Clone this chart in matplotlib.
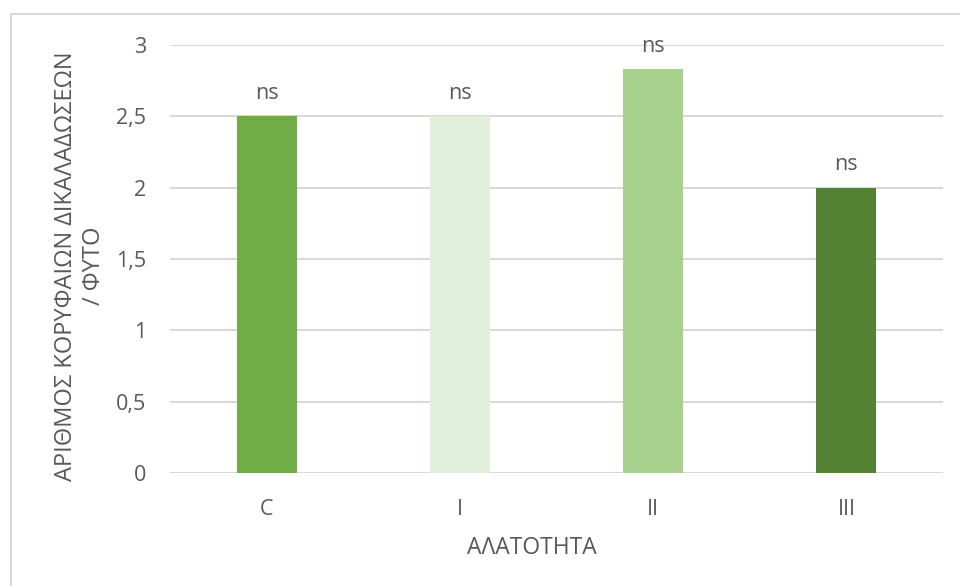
import matplotlib
matplotlib.use("Agg")
import matplotlib.pyplot as plt
from matplotlib.patches import Rectangle

categories = ["C", "I", "II", "III"]
values = [2.5, 2.5, 2.83, 2.0]
labels = ["ns", "ns", "ns", "ns"]
colors = ["#70AD47", "#E2EFDA", "#A9D18E", "#548235"]
yticks = [0, 0.5, 1, 1.5, 2, 2.5, 3]
ytick_labels = ["0", "0,5", "1", "1,5", "2", "2,5", "3"]

plt.rcParams['font.family'] = ['Open Sans', 'DejaVu Sans']
txt = "#595959"
fs = 15.5

fig = plt.figure(figsize=(9.6, 5.86), dpi=100)
ax = fig.add_axes([170/960, 1-473/586, (943-170)/960, (473-45)/586])

x = range(len(categories))
ax.bar(x, values, width=0.31, color=colors, zorder=3)
for xi, v, lab in zip(x, values, labels):
    ax.annotate(lab, (xi, v), xytext=(0, 9), textcoords="offset points",
                ha="center", va="bottom", fontsize=fs, color=txt)

ax.set_xlim(-0.5, len(categories) - 0.5)
ax.set_ylim(0, 3)
ax.set_yticks(yticks)
ax.set_yticklabels(ytick_labels)
ax.set_xticks(list(x))
ax.set_xticklabels(categories)
ax.tick_params(axis="both", length=0, labelsize=fs, colors=txt)
ax.tick_params(axis="y", pad=17)
ax.tick_params(axis="x", pad=19)
ax.grid(axis="y", color="#D9D9D9", linewidth=1.5, zorder=0)
for s in ax.spines.values():
    s.set_visible(False)

fig.text(80/960, 1 - 266/586, "ΑΡΙΘΜΟΣ ΚΟΡΥΦΑΙΩΝ ΔΙΚΑΛΑΔΩΣΕΩΝ\n/ ΦΥΤΟ",
         rotation=90, ha="center", va="center", multialignment="center",
         fontsize=17, color=txt, linespacing=1.2)
fig.text(532/960, 1 - 548/586, "ΑΛΑΤΟΤΗΤΑ", ha="center", va="center",
         fontsize=16.5, color=txt)

fig.patches.append(Rectangle((11/960, -0.1), 1.2, 1 - 14/586 + 0.1,
                             transform=fig.transFigure, fill=False,
                             edgecolor="#D9D9D9", linewidth=1.5))

fig.savefig("out.png", dpi=100)
